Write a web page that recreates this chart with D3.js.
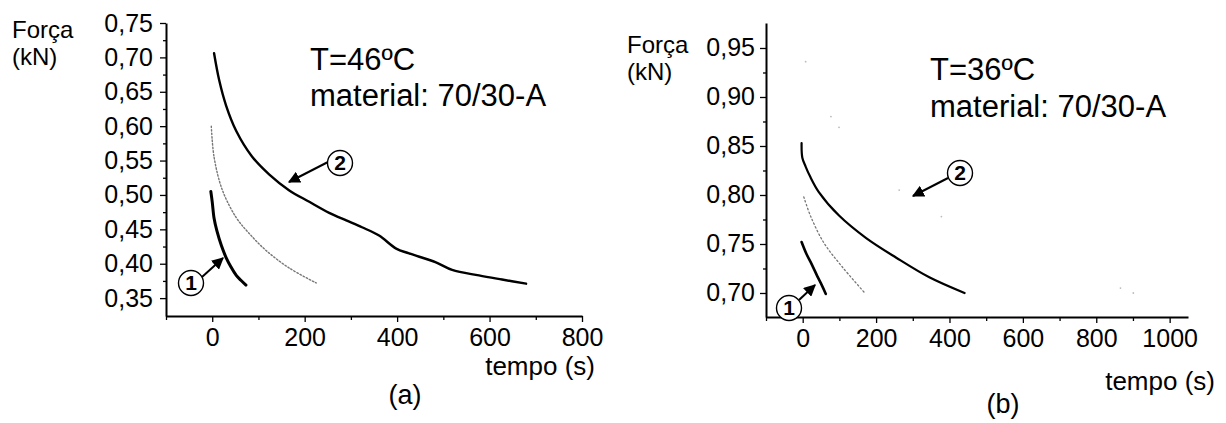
<!DOCTYPE html>
<html><head><meta charset="utf-8">
<script src="https://cdn.jsdelivr.net/npm/d3@7"></script>
<style>
html,body{margin:0;padding:0;background:#fff;}
svg{display:block;}
text{font-family:"Liberation Sans",Arial,sans-serif;fill:#000;}
</style></head>
<body>
<svg id="c" width="1226" height="423"></svg>
<script>
// ---- Data: panel (a), T=46ºC ----
const timeA1 = [-3, 0, 4, 10, 20, 30, 40, 52, 62, 73];
const forceA1 = [0.505, 0.490, 0.466, 0.448, 0.426, 0.409, 0.396, 0.383, 0.376, 0.369];
const timeA2 = [4, 15, 30, 52, 86, 123, 166, 210, 253, 290, 324, 361, 398, 426, 484, 519, 577, 627, 679];
const forceA2 = [0.706, 0.667, 0.630, 0.593, 0.556, 0.530, 0.507, 0.490, 0.474, 0.463, 0.453, 0.441, 0.422, 0.415, 0.402, 0.391, 0.383, 0.377, 0.371];
const timeA3 = [-2, 4, 22, 52, 80, 117, 166, 225];
const forceA3 = [0.600, 0.555, 0.507, 0.467, 0.444, 0.419, 0.394, 0.372];
// ---- Data: panel (b), T=36ºC ----
const timeB1 = [-3, 10, 25, 40, 52, 63];
const forceB1 = [0.752, 0.740, 0.729, 0.717, 0.708, 0.699];
const timeB2 = [-3, -1, 8, 20, 44, 99, 173, 255, 345, 441];
const forceB2 = [0.853, 0.838, 0.829, 0.819, 0.803, 0.779, 0.756, 0.736, 0.716, 0.700];
const timeB3 = [3, 22, 58, 107, 167];
const forceB3 = [0.798, 0.778, 0.751, 0.727, 0.701];
const timeB4 = [8, 77, 99, 263, 378, 866, 901];
const forceB4 = [0.936, 0.880, 0.869, 0.805, 0.778, 0.705, 0.700];
// ---- Ticks ----
const xTicksA = [0, 200, 400, 600, 800];
const yTicksA = [0.35, 0.40, 0.45, 0.50, 0.55, 0.60, 0.65, 0.70, 0.75];
const xTicksB = [0, 200, 400, 600, 800, 1000];
const yTicksB = [0.70, 0.75, 0.80, 0.85, 0.90, 0.95];

const svg = d3.select("#c");
const defs = svg.append("defs");
defs.append("marker").attr("id","ah").attr("viewBox","0 0 10 10").attr("refX",9).attr("refY",5)
  .attr("markerWidth",6).attr("markerHeight",6).attr("orient","auto")
  .append("path").attr("d","M0,0 L10,5 L0,10 z").attr("fill","#000");

const fmt = d => d3.format(".2f")(d).replace(".", ",");
const zip = (t,f) => t.map((v,i)=>({t:v,f:f[i]}));

function panel(o){
  const x = d3.scaleLinear().domain(o.xd).range(o.xr);
  const y = d3.scaleLinear().domain(o.yd).range(o.yr);
  const g = svg.append("g");
  const gxm = g.append("g").attr("transform",`translate(0,${o.yr[0]})`)
    .call(d3.axisBottom(x).tickValues(o.xMinor).tickSize(4).tickFormat(""));
  gxm.select(".domain").remove();
  const gym = g.append("g").attr("transform",`translate(${o.xr[0]},0)`)
    .call(d3.axisLeft(y).tickValues(o.yMinor).tickSize(3).tickFormat(""));
  gym.select(".domain").remove();
  const gx = g.append("g").attr("transform",`translate(0,${o.yr[0]})`)
    .call(d3.axisBottom(x).tickValues(o.xTicks).tickSize(6).tickSizeOuter(0).tickPadding(6).tickFormat(d3.format("d")));
  const gy = g.append("g").attr("transform",`translate(${o.xr[0]},0)`)
    .call(d3.axisLeft(y).tickValues(o.yTicks).tickSize(6).tickSizeOuter(0).tickPadding(o.ypad).tickFormat(fmt));
  [gx,gy,gxm,gym].forEach(a=>{
    a.selectAll("text").attr("font-size",25).attr("font-family","Liberation Sans, Arial, sans-serif").attr("fill","#000");
    a.selectAll("line").attr("stroke","#000").attr("stroke-width",1.3);
    a.select(".domain").attr("stroke","#000").attr("stroke-width",2);
  });
  const line = d3.line().x(d=>x(d.t)).y(d=>y(d.f)).curve(d3.curveCatmullRom.alpha(0.5));
  o.series.forEach(s=>{
    if(s.dots){
      g.selectAll(null).data(zip(s.t,s.f)).enter().append("circle")
        .attr("cx",d=>x(d.t)).attr("cy",d=>y(d.f)).attr("r",0.9).attr("fill","#bbb");
    } else {
      g.append("path").datum(zip(s.t,s.f)).attr("d",line).attr("fill","none")
        .attr("stroke",s.c).attr("stroke-width",s.w).attr("stroke-dasharray",s.dash||null)
        .attr("stroke-linecap","round");
    }
  });
  return {x,y,g};
}

panel({xd:[-100,800], xr:[166,582], yd:[0.324,0.75], yr:[316,23], ypad:7,
  xTicks:xTicksA, yTicks:yTicksA, xMinor:[-100,100,300,500,700], yMinor:d3.range(0.375,0.75,0.05),
  series:[
    {t:timeA1,f:forceA1,c:"#000",w:3},
    {t:timeA2,f:forceA2,c:"#000",w:2.4},
    {t:timeA3,f:forceA3,c:"#777",w:1.4,dash:"1.5,2"}
  ]});
panel({xd:[-100,1050], xr:[766,1188], yd:[0.6755,0.9755], yr:[317,23], ypad:5,
  xTicks:xTicksB, yTicks:yTicksB, xMinor:[-100,100,300,500,700,900], yMinor:d3.range(0.725,0.97,0.05),
  series:[
    {t:timeB1,f:forceB1,c:"#000",w:2.6},
    {t:timeB2,f:forceB2,c:"#000",w:2.2},
    {t:timeB3,f:forceB3,c:"#777",w:1.3,dash:"1.5,2.5"},
    {t:timeB4,f:forceB4,dots:true}
  ]});

function txt(x,y,s,size,anchor){
  svg.append("text").attr("x",x).attr("y",y).attr("font-size",size)
    .attr("text-anchor",anchor||"start").text(s);
}
// panel (a) labels
txt(12,38,"Força",24); txt(12,65,"(kN)",24);
txt(310,70,"T=46ºC",31); txt(310,106,"material: 70/30-A",31);
txt(595,375,"tempo (s)",26,"end"); txt(405,404,"(a)",27,"middle");
// panel (b) labels
txt(627,53,"Força",24); txt(627,80,"(kN)",24);
txt(930,80,"T=36ºC",31); txt(930,117,"material: 70/30-A",31);
txt(1215,390,"tempo (s)",26,"end"); txt(1003,413,"(b)",27,"middle");

function circ(cx,cy,label){
  svg.append("circle").attr("cx",cx).attr("cy",cy).attr("r",12.5).attr("fill","#fff")
    .attr("stroke","#000").attr("stroke-width",1.4);
  svg.append("text").attr("x",cx).attr("y",cy+7).attr("text-anchor","middle")
    .attr("font-family","Liberation Serif, serif").attr("font-weight","bold").attr("font-size",21).text(label);
}
function arrow(x1,y1,x2,y2){
  svg.append("line").attr("x1",x1).attr("y1",y1).attr("x2",x2).attr("y2",y2)
    .attr("stroke","#000").attr("stroke-width",2).attr("marker-end","url(#ah)");
}
arrow(328,162,289,182); circ(340,163,"2");
arrow(202,277,223,258); circ(191,283,"1");
arrow(948,178,913,196); circ(960,173,"2");
arrow(799,300,815,285); circ(789,308,"1");
</script>
</body></html>
